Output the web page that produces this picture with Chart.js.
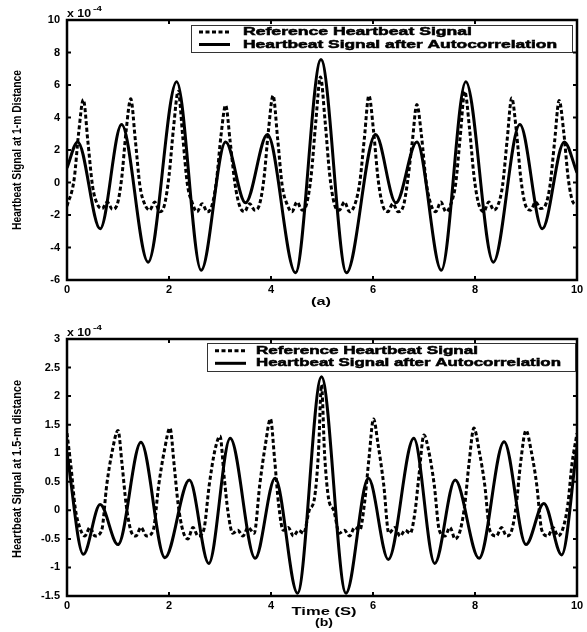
<!DOCTYPE html>
<html>
<head>
<meta charset="utf-8">
<script src="https://cdn.jsdelivr.net/npm/chart.js@4.4.1/dist/chart.umd.min.js"></script>
<style>
  html, body { margin: 0; padding: 0; background: #fff; }
  #wrap { position: relative; width: 587px; height: 632px; }
  canvas { position: absolute; left: 0; }
  #chartA { top: 0; }
  #chartB { top: 312px; }
</style>
</head>
<body>
<div id="wrap">
  <canvas id="chartA" width="587" height="312"></canvas>
  <canvas id="chartB" width="587" height="320"></canvas>
</div>
<script>
// ---- data (values in units of 1e-4) ----
var seriesLabels = ['Reference Heartbeat Signal', 'Heartbeat Signal after Autocorrelation'];

var xTicks = [0, 2, 4, 6, 8, 10];
var xTickLabels = ['0', '2', '4', '6', '8', '10'];

// (a) 1-m distance
var yTicksA = [10, 8, 6, 4, 2, 0, -2, -4, -6];
var yTickLabelsA = ['10', '8', '6', '4', '2', '0', '-2', '-4', '-6'];

var refTimeA = [
  0, 0.14, 0.23, 0.32, 0.41, 0.5, 0.59, 0.69, 0.79, 0.89,
  0.98, 1.07, 1.16, 1.25, 1.34, 1.43, 1.52, 1.62, 1.72, 1.82,
  1.91, 2.0, 2.09, 2.18, 2.27, 2.36, 2.45, 2.55, 2.65, 2.75,
  2.84, 2.93, 3.02, 3.11, 3.2, 3.29, 3.38, 3.48, 3.58, 3.68,
  3.77, 3.86, 3.95, 4.04, 4.13, 4.22, 4.31, 4.41, 4.51, 4.61,
  4.7, 4.79, 4.88, 4.97, 5.06, 5.15, 5.24, 5.34, 5.44, 5.54,
  5.65, 5.74, 5.83, 5.92, 6.01, 6.1, 6.19, 6.29, 6.39, 6.49,
  6.59, 6.68, 6.77, 6.86, 6.95, 7.04, 7.13, 7.23, 7.33, 7.43,
  7.53, 7.62, 7.71, 7.8, 7.89, 7.98, 8.07, 8.17, 8.27, 8.37,
  8.45, 8.54, 8.63, 8.72, 8.81, 8.9, 8.99, 9.09, 9.19, 9.29,
  9.38, 9.47, 9.56, 9.65, 9.74, 9.83, 9.92, 10
];
var refA = [
  -1.45, 0.2, 3.1, 5.1, 2.5, -0.2, -1.3, -1.6, -1.2, -1.65,
  -1.4, 0.2, 3.2, 5.15, 2.6, -0.2, -1.3, -1.7, -1.2, -1.8,
  -1.4, 0.4, 3.4, 5.6, 2.8, -0.1, -1.2, -1.8, -1.3, -1.8,
  -1.45, 0.1, 2.9, 4.75, 2.5, 0.0, -1.4, -1.8, -1.3, -1.7,
  -1.4, 0.2, 3.2, 5.35, 2.7, -0.2, -1.3, -1.8, -1.2, -1.7,
  -1.3, 0.5, 3.8, 6.5, 3.8, 0.5, -1.3, -1.7, -1.2, -1.8,
  -1.3, 0.0, 2.7, 5.35, 3.2, 0.2, -1.4, -1.8, -1.3, -1.8,
  -1.5, 0.1, 2.5, 4.8, 2.9, 0.1, -1.3, -1.8, -1.2, -1.8,
  -1.3, -0.1, 2.8, 5.6, 3.4, 0.4, -1.3, -1.8, -1.2, -1.7,
  -1.4, -0.2, 2.6, 5.2, 3.2, 0.2, -1.4, -1.7, -1.2, -1.6,
  -1.4, -0.2, 2.5, 5.05, 3.1, 0.2, -1.2, -1.4
];

var autoTimeA = [0, 0.21, 0.65, 1.07, 1.59, 2.15, 2.63, 3.11, 3.5, 3.93, 4.48, 4.98,
  5.48, 6.05, 6.45, 6.86, 7.34, 7.82, 8.36, 8.88, 9.32, 9.75, 10];
var autoA = [0.9, 2.5, -2.85, 3.57, -4.9, 6.2, -5.4, 2.49, -1.25, 2.95, -5.55, 7.57,
  -5.55, 2.95, -1.25, 2.49, -5.4, 6.2, -4.9, 3.57, -2.85, 2.5, 0.6];

// (b) 1.5-m distance
var yTicksB = [3, 2.5, 2, 1.5, 1, 0.5, 0, -0.5, -1, -1.5];
var yTickLabelsB = ['3', '2.5', '2', '1.5', '1', '0.5', '0', '-0.5', '-1', '-1.5'];

var refTimeB = [
  0, 0.08, 0.16, 0.25, 0.35, 0.45, 0.55, 0.68,
  0.78, 0.89, 1.0, 1.08, 1.16, 1.25, 1.35, 1.45, 1.56, 1.69,
  1.8, 1.91, 2.02, 2.1, 2.18, 2.27, 2.37, 2.47, 2.57, 2.68,
  2.79, 2.9, 3.0, 3.08, 3.16, 3.25, 3.35, 3.45, 3.55, 3.67,
  3.78, 3.89, 3.99, 4.07, 4.15, 4.24, 4.34, 4.44, 4.54,
  4.64, 4.75, 4.85, 4.93, 4.99, 5.05, 5.13, 5.23, 5.34,
  5.44, 5.54, 5.64, 5.74, 5.83, 5.92, 6.01, 6.1, 6.21,
  6.31, 6.43, 6.53, 6.63, 6.73, 6.82, 6.9, 7.0, 7.09, 7.2,
  7.3, 7.41, 7.51, 7.61, 7.71, 7.8, 7.88, 7.98, 8.08, 8.19,
  8.29, 8.42, 8.52, 8.62, 8.72, 8.81, 8.89, 9.0, 9.1, 9.21,
  9.31, 9.43, 9.53, 9.63, 9.73, 9.82, 9.9, 10
];
var refB = [
  1.35, 0.75, 0.05, -0.3, -0.45, -0.3, -0.45, -0.35,
  0.45, 1.05, 1.4, 0.8, 0.1, -0.35, -0.45, -0.3, -0.45, -0.35,
  0.45, 1.05, 1.44, 0.8, 0.1, -0.35, -0.5, -0.3, -0.45, -0.35,
  0.45, 1.05, 1.3, 0.6, -0.05, -0.4, -0.35, -0.45, -0.3, -0.4,
  0.45, 1.15, 1.6, 0.9, 0.1, -0.35, -0.3, -0.45, -0.35,
  -0.4, 0.0, 0.2, 1.0, 2.2, 1.0, 0.2, 0.0, -0.4,
  -0.35, -0.45, -0.3, -0.35, 0.1, 0.9, 1.6, 1.15, 0.45,
  -0.4, -0.3, -0.45, -0.35, -0.4, -0.05, 0.6, 1.32, 1.05, 0.45,
  -0.35, -0.45, -0.3, -0.5, -0.35, 0.1, 0.8, 1.44, 1.05, 0.45,
  -0.35, -0.45, -0.3, -0.45, -0.35, 0.1, 0.8, 1.4, 1.05, 0.45,
  -0.35, -0.45, -0.3, -0.45, -0.3, 0.1, 0.8, 1.35
];

var autoTimeB = [0, 0.32, 0.65, 1.0, 1.45, 1.92, 2.4, 2.78, 3.2, 3.69, 4.08, 4.52, 4.99,
  5.47, 5.91, 6.3, 6.8, 7.21, 7.61, 8.08, 8.57, 9.0, 9.35, 9.7, 10];
var autoB = [1.0, -0.77, 0.1, -0.6, 1.19, -0.83, 0.53, -0.93, 1.26, -0.84, 0.56, -1.45, 2.34,
  -1.45, 0.56, -0.86, 1.26, -0.93, 0.53, -0.84, 1.2, -0.6, 0.12, -0.78, 1.1];

// ---- helpers ----
var SANS = '"Liberation Sans", Arial, Helvetica, sans-serif';

function toPoints(xs, ys) {
  return xs.map(function(x, i) { return { x: x, y: ys[i] }; });
}

// draw text stretched or squeezed to a given width (the source figure is stretched sideways)
function fitText(ctx, text, x, y, width, align, angle, heavy) {
  var w = ctx.measureText(text).width;
  ctx.save();
  ctx.translate(x, y);
  if (angle) ctx.rotate(angle);
  ctx.scale(width / w, 1);
  ctx.textAlign = align;
  ctx.fillText(text, 0, 0);
  if (heavy) {
    ctx.lineWidth = 0.5;
    ctx.strokeText(text, 0, 0);
  }
  ctx.restore();
}

var figurePlugin = {
  id: 'figure',
  afterDraw: function(chart, args, opts) {
    var ctx = chart.ctx, a = chart.chartArea;
    var xs = chart.scales.x, ys = chart.scales.y;
    ctx.save();
    ctx.strokeStyle = '#000';
    ctx.fillStyle = '#000';

    // inward tick marks on all four sides
    ctx.lineWidth = 2;
    ctx.beginPath();
    xs.ticks.forEach(function(t) {
      var px = xs.getPixelForValue(t.value);
      ctx.moveTo(px, a.bottom); ctx.lineTo(px, a.bottom - 4);
      ctx.moveTo(px, a.top); ctx.lineTo(px, a.top + 4);
    });
    ys.ticks.forEach(function(t) {
      var py = ys.getPixelForValue(t.value);
      ctx.moveTo(a.left, py); ctx.lineTo(a.left + 4, py);
      ctx.moveTo(a.right, py); ctx.lineTo(a.right - 4, py);
    });
    ctx.stroke();

    // box
    ctx.lineWidth = 2.5;
    ctx.strokeRect(a.left, a.top, a.right - a.left, a.bottom - a.top);

    // x 10^-4
    ctx.textBaseline = 'alphabetic';
    ctx.font = 'bold 11px ' + SANS;
    fitText(ctx, 'x 10', a.left, a.top - 3, 24, 'left');
    ctx.font = 'bold 8px ' + SANS;
    fitText(ctx, '-4', a.left + 26, a.top - 9, 9, 'left');

    // y title
    ctx.textBaseline = 'middle';
    ctx.font = 'bold 12px ' + SANS;
    fitText(ctx, opts.yTitle.text, 17.5, opts.yTitle.y, opts.yTitle.len, 'center', -Math.PI / 2);

    // texts under the x axis
    ctx.font = 'bold 11px ' + SANS;
    opts.xTexts.forEach(function(t) {
      fitText(ctx, t.text, t.x, t.y, t.w, 'center');
    });

    // legend
    var L = opts.legend;
    ctx.fillStyle = '#fff';
    ctx.fillRect(L.x, L.y, L.w, L.h);
    ctx.strokeStyle = '#333';
    ctx.lineWidth = 1;
    ctx.strokeRect(L.x + 0.5, L.y + 0.5, L.w, L.h);
    chart.data.datasets.forEach(function(ds, i) {
      var ry = L.rows[i];
      ctx.save();
      ctx.strokeStyle = '#000';
      ctx.lineWidth = ds.borderWidth;
      ctx.setLineDash(ds.borderDash || []);
      ctx.beginPath();
      ctx.moveTo(L.x + 8, ry);
      ctx.lineTo(L.x + 39, ry);
      ctx.stroke();
      ctx.restore();
      ctx.fillStyle = '#000';
      ctx.strokeStyle = '#000';
      ctx.font = 'bold 11px ' + SANS;
      fitText(ctx, ds.label, L.textX, ry, L.widths[i], 'left', 0, true);
    });
    ctx.restore();
  }
};

function makeChart(id, cfg) {
  var tickFont = { family: SANS, size: 11, weight: 'bold' };
  return new Chart(document.getElementById(id), {
    type: 'line',
    data: {
      datasets: [{
        label: seriesLabels[0],
        data: toPoints(cfg.refTime, cfg.ref),
        borderColor: '#000',
        borderWidth: 3,
        borderDash: [4, 2.5],
        pointRadius: 0,
        cubicInterpolationMode: 'monotone',
        fill: false
      }, {
        label: seriesLabels[1],
        data: toPoints(cfg.autoTime, cfg.auto),
        borderColor: '#000',
        borderWidth: 3,
        pointRadius: 0,
        cubicInterpolationMode: 'monotone',
        fill: false
      }]
    },
    options: {
      responsive: false,
      animation: false,
      devicePixelRatio: 1,
      layout: { padding: { left: 0, right: 10, top: cfg.padTop, bottom: 0 } },
      plugins: {
        legend: { display: false },
        tooltip: { enabled: false },
        figure: cfg.figure
      },
      scales: {
        x: {
          type: 'linear',
          min: 0,
          max: 10,
          afterBuildTicks: function(s) { s.ticks = xTicks.map(function(v) { return { value: v }; }); },
          afterFit: function(s) { s.height = cfg.xHeight; s.paddingLeft = 0; s.paddingRight = 0; },
          ticks: {
            font: tickFont,
            color: '#000',
            padding: 3,
            maxRotation: 0,
            autoSkip: false,
            callback: function(v, i) { return xTickLabels[i]; }
          },
          grid: { display: false, drawTicks: false },
          border: { display: false }
        },
        y: {
          type: 'linear',
          min: cfg.yTicks[cfg.yTicks.length - 1],
          max: cfg.yTicks[0],
          afterBuildTicks: function(s) { s.ticks = cfg.yTicks.map(function(v) { return { value: v }; }); },
          afterFit: function(s) { s.width = 67; s.paddingTop = 0; s.paddingBottom = 0; },
          ticks: {
            font: tickFont,
            color: '#000',
            padding: 7,
            autoSkip: false,
            callback: function(v, i) { return cfg.yTickLabels[i]; }
          },
          grid: { display: false, drawTicks: false },
          border: { display: false }
        }
      }
    },
    plugins: [figurePlugin]
  });
}

makeChart('chartA', {
  refTime: refTimeA, ref: refA, autoTime: autoTimeA, auto: autoA,
  yTicks: yTicksA, yTickLabels: yTickLabelsA,
  padTop: 20, xHeight: 32,
  figure: {
    yTitle: { text: 'Heartbeat Signal at 1-m Distance', y: 150, len: 160 },
    xTexts: [{ text: '(a)', x: 321, y: 302, w: 20 }],
    legend: { x: 191, y: 25, w: 381, h: 27, textX: 243, rows: [32, 44.5], widths: [229, 314] }
  }
});

makeChart('chartB', {
  refTime: refTimeB, ref: refB, autoTime: autoTimeB, auto: autoB,
  yTicks: yTicksB, yTickLabels: yTickLabelsB,
  padTop: 27, xHeight: 36,
  figure: {
    yTitle: { text: 'Heartbeat Signal at 1.5-m distance', y: 157, len: 178 },
    xTexts: [{ text: 'Time (S)', x: 324, y: 300, w: 65 }, { text: '(b)', x: 324, y: 311, w: 18 }],
    legend: { x: 207, y: 31, w: 368, h: 28, textX: 256, rows: [38.7, 51.3], widths: [222, 305] }
  }
});
</script>
</body>
</html>
